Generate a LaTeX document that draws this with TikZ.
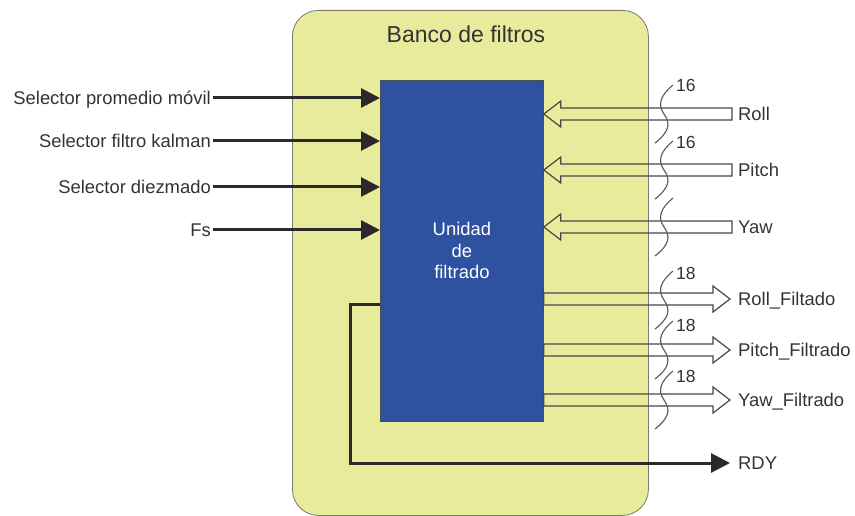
\documentclass[tikz,border=0pt]{standalone}
\usepackage{fontspec}
\setmainfont{Liberation Sans}
\usetikzlibrary{arrows.meta,positioning,calc}

\definecolor{bankfill}{HTML}{E8EB9B}
\definecolor{bankdraw}{HTML}{7A7A70}
\definecolor{unitfill}{HTML}{2E52A0}
\definecolor{ink}{HTML}{333333}
\definecolor{wire}{HTML}{2A2A2A}

% hollow bus arrow: #1 tail, #2 tip
\newcommand{\busarrow}[2]{%
  \draw[bus] let \p1=(#1), \p2=(#2), \n1={\x2+sign(\x1-\x2)*17} in
    (\x2,\y2) -- (\n1,\y2+13) -- (\n1,\y2+6) -- (\x1,\y2+6)
    -- (\x1,\y2-6) -- (\n1,\y2-6) -- (\n1,\y2-13) -- cycle;}

\begin{document}
\begin{tikzpicture}[
  x=1pt, y=-1pt,
  font=\fontsize{18.4}{21.5}\selectfont,
  bank/.style={
    draw=bankdraw,
    fill=bankfill,
    line width=0.8pt,
    rounded corners=26pt,
    minimum width=356pt,
    minimum height=505pt
  },
  unitbox/.style={
    draw=black!70,
    fill=unitfill,
    line width=0.8pt,
    text=white,
    align=center,
    minimum width=163pt,
    minimum height=341pt
  },
  lbl/.style={text=ink, text height=13pt, text depth=0pt, inner ysep=0pt, inner xsep=2pt},
  num/.style={text=ink, font=\fontsize{17.5}{20}\selectfont, inner sep=1pt, anchor=west},
  sig/.style={draw=wire, line width=3pt, -{Triangle[length=19pt,width=19pt]}},
  bus/.style={draw=black!72, line width=1.2pt},
  brkline/.style={draw=black!62, line width=1.2pt},
  brk/.pic={\draw[brkline] (9,-29) .. controls (-3,-19) and (-7,-10) .. (0,0)
    .. controls (7,10) and (5,18) .. (-9,29);}
]
\useasboundingbox (0,0) rectangle (855,516);

\node[bank, anchor=north west] (bank) at (292,10) {};
\node[text=ink, font=\fontsize{23}{27}\selectfont] (title) at (466,34) {Banco de filtros};
\node[unitbox, anchor=north west] (unit) at (380,80) {Unidad\\de\\filtrado};

% inputs
\node[lbl, anchor=east] (selprom) at (213,98) {Selector promedio móvil};
\node[lbl, anchor=east] (selkal) at (213,141) {Selector filtro kalman};
\node[lbl, anchor=east] (seldiez) at (213,187) {Selector diezmado};
\node[lbl, anchor=east] (fs) at (213,230) {Fs};

\draw[sig] (selprom) -- (selprom -| unit.west);
\draw[sig] (selkal) -- (selkal -| unit.west);
\draw[sig] (seldiez) -- (seldiez -| unit.west);
\draw[sig] (fs) -- (fs -| unit.west);

% bus inputs
\node[lbl, anchor=west, inner xsep=6pt] (roll) at (732,114) {Roll};
\node[lbl, anchor=west, inner xsep=6pt] (pitch) at (732,170) {Pitch};
\node[lbl, anchor=west, inner xsep=6pt] (yaw) at (732,227) {Yaw};

\busarrow{roll.west}{roll -| unit.east}
\busarrow{pitch.west}{pitch -| unit.east}
\busarrow{yaw.west}{yaw -| unit.east}

% bus outputs
\node[lbl, anchor=west, inner xsep=8pt] (rollf) at (730,299) {Roll\_Filtado};
\node[lbl, anchor=west, inner xsep=8pt] (pitchf) at (730,350) {Pitch\_Filtrado};
\node[lbl, anchor=west, inner xsep=8pt] (yawf) at (730,400) {Yaw\_Filtrado};

\busarrow{rollf -| unit.east}{rollf.west}
\busarrow{pitchf -| unit.east}{pitchf.west}
\busarrow{yawf -| unit.east}{yawf.west}

% bus width marks
\pic at (664,114) {brk};
\pic at (664,170) {brk};
\pic at (664,227) {brk};
\pic at (664,300) {brk};
\pic at (664,350) {brk};
\pic at (664,400) {brk};
\node[num] (w1) at (675,85) {16};
\node[num] (w2) at (675,142) {16};
\node[num] (w3) at (675,273) {18};
\node[num] (w4) at (675,325) {18};
\node[num] (w5) at (675,376) {18};

% ready
\node[lbl, anchor=west, inner xsep=8pt] (rdy) at (730,463) {RDY};
\draw[sig] (unit.west |- 0,304) -| (350,0 |- rdy.west) -- (rdy.west);
\end{tikzpicture}
\end{document}
